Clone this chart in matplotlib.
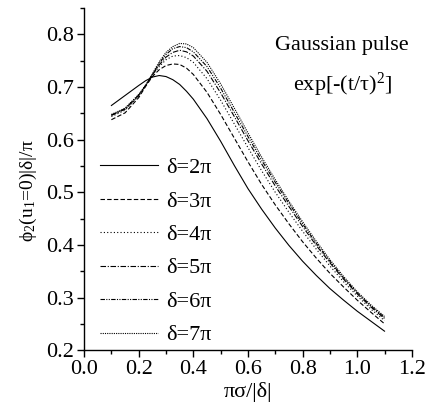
import matplotlib
matplotlib.use("Agg")
import matplotlib.pyplot as plt
from matplotlib.ticker import MultipleLocator

plt.rcParams["font.family"] = ["Liberation Serif", "DejaVu Serif"]
plt.rcParams["mathtext.fontset"] = "custom"
plt.rcParams["mathtext.rm"] = "Liberation Serif"
plt.rcParams["mathtext.default"] = "regular"

# pi*sigma/|delta|
x = [0.10, 0.15, 0.20, 0.225, 0.25, 0.275, 0.30, 0.325, 0.35, 0.375, 0.40,
     0.45, 0.50, 0.55, 0.60, 0.65, 0.70, 0.75, 0.80, 0.85, 0.90, 0.95,
     1.00, 1.05, 1.10]

d2 = [0.665, 0.684, 0.703, 0.712, 0.719, 0.722, 0.720, 0.714, 0.705, 0.692, 0.677,
      0.640, 0.597, 0.551, 0.507, 0.468, 0.432, 0.399, 0.369, 0.342, 0.317, 0.295,
      0.274, 0.255, 0.236]
d3 = [0.638, 0.651, 0.680, 0.701, 0.720, 0.733, 0.741, 0.744, 0.743, 0.736, 0.724,
      0.690, 0.648, 0.603, 0.558, 0.515, 0.476, 0.440, 0.406, 0.375, 0.346, 0.320,
      0.295, 0.272, 0.250]
d4 = [0.644, 0.656, 0.683, 0.703, 0.723, 0.739, 0.752, 0.759, 0.760, 0.756, 0.747,
      0.716, 0.675, 0.630, 0.585, 0.541, 0.500, 0.462, 0.426, 0.392, 0.360, 0.330,
      0.303, 0.278, 0.256]
d5 = [0.646, 0.658, 0.684, 0.703, 0.723, 0.742, 0.757, 0.766, 0.770, 0.767, 0.759,
      0.730, 0.689, 0.644, 0.598, 0.554, 0.512, 0.473, 0.435, 0.399, 0.366, 0.335,
      0.307, 0.282, 0.260]
d6 = [0.647, 0.659, 0.685, 0.703, 0.724, 0.745, 0.762, 0.773, 0.777, 0.775, 0.767,
      0.739, 0.698, 0.652, 0.606, 0.561, 0.519, 0.479, 0.440, 0.403, 0.369, 0.337,
      0.309, 0.284, 0.262]
d7 = [0.648, 0.660, 0.686, 0.703, 0.725, 0.748, 0.766, 0.777, 0.783, 0.782, 0.775,
      0.747, 0.706, 0.660, 0.613, 0.567, 0.524, 0.483, 0.444, 0.407, 0.372, 0.340,
      0.311, 0.286, 0.264]

labels = ["δ=2π", "δ=3π", "δ=4π", "δ=5π", "δ=6π", "δ=7π"]
styles = ["-", (0, (4, 2)), (0, (1, 2)), (0, (5, 1.5, 1, 1.5)),
          (0, (4, 1.2, 1, 1.2, 1, 1.2)), (0, (1, 1))]

fig = plt.figure(figsize=(4.29, 4.09), dpi=100)
ax = fig.add_axes([0.196, 0.144, 0.764, 0.836])

for ys, lab, ls in zip([d2, d3, d4, d5, d6, d7], labels, styles):
    ax.plot(x, ys, color="black", lw=0.8, linestyle=ls, label=lab)

ax.set_xlim(0, 1.2)
ax.set_ylim(0.2, 0.85)
ax.xaxis.set_major_locator(MultipleLocator(0.2))
ax.xaxis.set_minor_locator(MultipleLocator(0.1))
ax.yaxis.set_major_locator(MultipleLocator(0.1))
ax.yaxis.set_minor_locator(MultipleLocator(0.05))
ax.xaxis.set_major_formatter(plt.FormatStrFormatter("%.1f"))
ax.yaxis.set_major_formatter(plt.FormatStrFormatter("%.1f"))
ax.tick_params(which="major", length=5, width=1, labelsize=16, pad=2)
ax.tick_params(which="minor", length=3, width=1)

for s in ["top", "right"]:
    ax.spines[s].set_visible(False)
for s in ["left", "bottom"]:
    ax.spines[s].set_linewidth(1)

ax.set_xlabel("πσ/|δ|", fontsize=16, labelpad=2)
ax.set_ylabel("ϕ$_2$(u$_1$=0)|δ|/π", fontsize=14)
ax.yaxis.set_label_coords(-0.137, 0.465)

ax.legend(loc="lower left", bbox_to_anchor=(0.022, -0.012), frameon=False,
          fontsize=16, handlelength=2.6, handletextpad=0.35, labelspacing=0.58,
          borderaxespad=0)

ax.text(0.785, 0.89, "Gaussian pulse", transform=ax.transAxes, ha="center",
        va="center", fontsize=16)
ax.text(0.79, 0.775, "exp[-(t/τ)$^2$]", transform=ax.transAxes, ha="center",
        va="center", fontsize=16)

fig.savefig("out.png", dpi=100)
